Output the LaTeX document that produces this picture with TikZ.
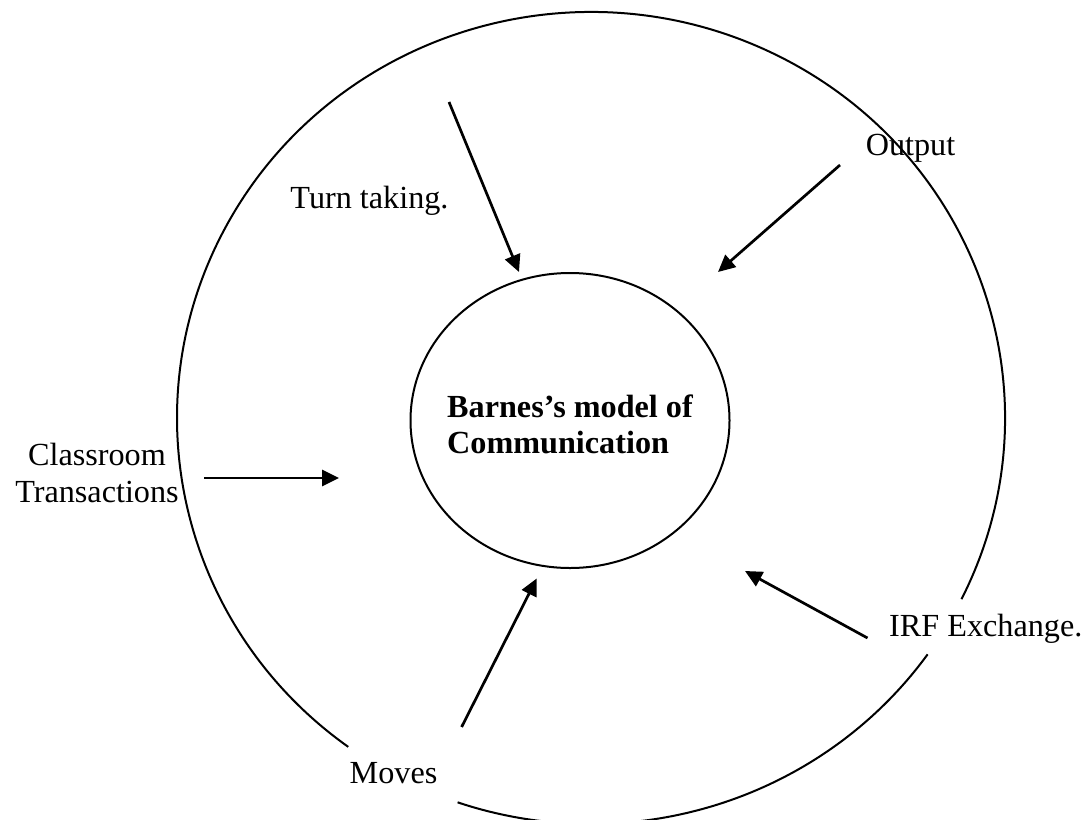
\documentclass[tikz,border=0pt]{standalone}
\usepackage{fontspec}
\setmainfont{Liberation Serif}
\usetikzlibrary{shapes.geometric,arrows.meta}
\begin{document}
\begin{tikzpicture}[x=1pt,y=1pt,
  lbl/.style={font=\fontsize{32.2}{37}\selectfont, inner sep=0pt, align=center},
  arr/.style={line width=2.7pt, -{Triangle[length=17pt,width=16pt]}},
  ring/.style={line width=2pt}]
\useasboundingbox (0,0) rectangle (1083,-819);
% outer ring, broken where two labels sit on it
\coordinate (oc) at (591,-418);
\draw[ring] (oc) ++(251.2:414pt and 406pt) arc[start angle=251.2, end angle=324.4, x radius=414pt, y radius=406pt];
\draw[ring] (oc) ++(333.5:414pt and 406pt) arc[start angle=333.5, end angle=594.1, x radius=414pt, y radius=406pt];
% inner circle
\node[draw, ring, ellipse, minimum width=319pt, minimum height=295pt, inner sep=0pt] (model) at (570,-420.5) {};
\node[lbl, font=\fontsize{32.2}{36}\selectfont\bfseries, align=left] (title) at (570,-424) {Barnes’s model of\\Communication};
% labels
\node[lbl, anchor=base] (turn) at (369.5,-208) {Turn taking.};
\node[lbl, anchor=base] (output) at (910.5,-155.5) {Output};
\node[lbl] (class) at (97,-472.5) {Classroom\\Transactions};
\node[lbl, anchor=base west] (irf) at (889,-636) {IRF Exchange.};
\node[lbl, anchor=base] (moves) at (393.5,-783) {Moves};
% arrow ends
\coordinate (turn-s) at (449,-102);
\coordinate (turn-e) at (519,-272);
\coordinate (out-s) at (840,-165);
\coordinate (out-e) at (718,-272);
\coordinate (class-s) at (204,-478);
\coordinate (class-e) at (339,-478);
\coordinate (irf-s) at (867.5,-638);
\coordinate (irf-e) at (745,-571);
\coordinate (moves-s) at (461.6,-727);
\coordinate (moves-e) at (536.7,-578.5);
\draw[arr] (turn-s) -- (turn-e);
\draw[arr] (out-s) -- (out-e);
\draw[arr] (class-s) -- (class-e);
\draw[arr] (irf-s) -- (irf-e);
\draw[arr] (moves-s) -- (moves-e);
\end{tikzpicture}
\end{document}
